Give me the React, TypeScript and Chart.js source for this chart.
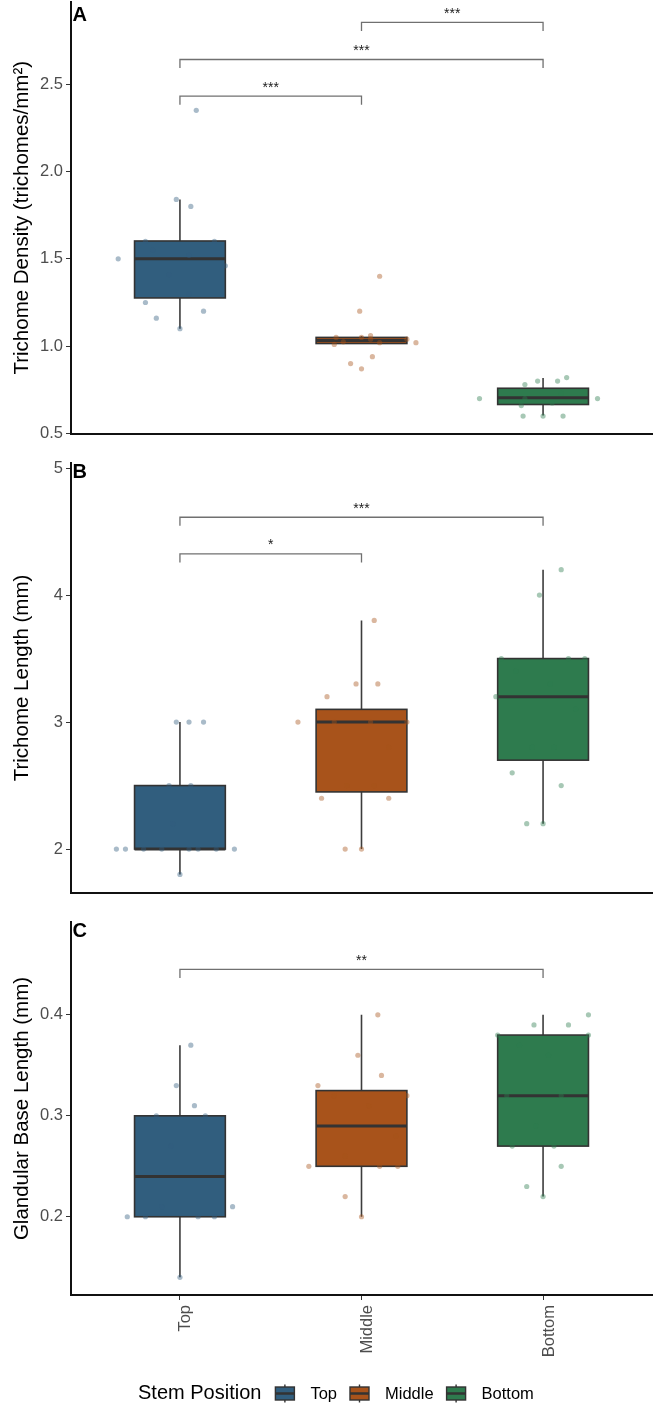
import { useEffect, useRef } from "react";
import { Chart, registerables } from "chart.js";

Chart.register(...registerables);

const FONT = "'Liberation Sans', Arial, Helvetica, sans-serif";
Chart.defaults.font.family = FONT;

// Stem positions and their fills
const groups = ["Top", "Middle", "Bottom"];
const groupFill = ["#315E7E", "#A8531B", "#2E7B4E"];
const groupPoint = ["rgba(49,94,126,0.42)", "rgba(168,83,27,0.42)", "rgba(46,123,78,0.42)"];

// ---- A: trichome density (trichomes/mm²) ----
const densityTop = [2.35, 1.84, 1.8, 1.6, 1.6, 1.55, 1.52, 1.5, 1.46, 1.41, 1.3, 1.25, 1.2, 1.16, 1.1];
const densityTopJitter = [0.09, -0.02, 0.06, -0.19, 0.19, -0.15, 0.05, -0.34, 0.25, -0.06, 0.05, -0.19, 0.13, -0.13, 0.0];
const densityMiddle = [1.4, 1.2, 1.06, 1.05, 1.05, 1.04, 1.04, 1.025, 1.02, 1.02, 1.01, 0.94, 0.9, 0.87];
const densityMiddleJitter = [0.1, -0.01, 0.05, -0.14, 0.0, 0.05, 0.25, -0.1, 0.1, 0.3, -0.15, 0.06, -0.06, 0.0];
const densityBottom = [0.82, 0.8, 0.8, 0.78, 0.73, 0.7, 0.7, 0.7, 0.675, 0.66, 0.6, 0.6, 0.6];
const densityBottomJitter = [0.13, -0.03, 0.08, -0.1, 0.1, -0.35, 0.3, -0.1, 0.05, -0.12, -0.11, 0.0, 0.11];
// [lower whisker, Q1, median, Q3, upper whisker]
const densityBoxes = [
  [1.1, 1.276, 1.5, 1.602, 1.839],
  [1.015, 1.015, 1.032, 1.05, 1.057],
  [0.603, 0.666, 0.704, 0.759, 0.818],
];
const densityTicks = [0.5, 1.0, 1.5, 2.0, 2.5];
const densityBrackets = [
  { from: 1, to: 2, y: 2.431, label: "***" },
  { from: 1, to: 3, y: 2.641, label: "***" },
  { from: 2, to: 3, y: 2.853, label: "***" },
];

// ---- B: trichome length (mm) ----
const lengthTop = [3.0, 3.0, 3.0, 2.5, 2.5, 2.2, 2.0, 2.0, 2.0, 2.0, 2.0, 2.0, 2.0, 2.0, 1.8];
const lengthTopJitter = [-0.02, 0.05, 0.13, -0.06, 0.06, -0.04, -0.35, -0.3, -0.2, -0.1, 0.05, 0.1, 0.2, 0.3, 0.0];
const lengthMiddle = [3.8, 3.3, 3.3, 3.2, 3.0, 3.0, 3.0, 3.0, 2.8, 2.5, 2.5, 2.4, 2.4, 2.0, 2.0];
const lengthMiddleJitter = [0.07, -0.03, 0.09, -0.19, -0.35, -0.15, 0.05, 0.25, 0.15, -0.08, 0.07, -0.22, 0.15, -0.09, 0.0];
const lengthBottom = [4.2, 4.0, 3.5, 3.5, 3.5, 3.4, 3.3, 3.2, 3.1, 2.8, 2.8, 2.6, 2.5, 2.2, 2.2];
const lengthBottomJitter = [0.1, -0.02, -0.23, 0.14, 0.23, -0.15, 0.04, -0.26, 0.18, -0.06, 0.06, -0.17, 0.1, -0.09, 0.0];
const lengthBoxes = [
  [1.8, 2.0, 2.0, 2.5, 3.0],
  [2.0, 2.45, 3.0, 3.1, 3.8],
  [2.2, 2.7, 3.2, 3.5, 4.2],
];
const lengthTicks = [2, 3, 4, 5];
const lengthBrackets = [
  { from: 1, to: 2, y: 4.324, label: "*" },
  { from: 1, to: 3, y: 4.613, label: "***" },
];

// ---- C: glandular base length (mm) ----
const baseTop = [0.37, 0.33, 0.31, 0.3, 0.3, 0.27, 0.21, 0.21, 0.2, 0.2, 0.2, 0.2, 0.14];
const baseTopJitter = [0.06, -0.02, 0.08, -0.13, 0.14, -0.05, -0.1, 0.29, -0.29, -0.19, 0.1, 0.19, 0.0];
const baseMiddle = [0.4, 0.36, 0.34, 0.33, 0.32, 0.32, 0.31, 0.28, 0.26, 0.25, 0.25, 0.25, 0.22, 0.2];
const baseMiddleJitter = [0.09, -0.02, 0.11, -0.24, -0.15, 0.25, 0.04, 0.19, -0.09, -0.29, 0.1, 0.2, -0.09, 0.0];
const baseBottom = [0.4, 0.39, 0.39, 0.38, 0.38, 0.37, 0.36, 0.32, 0.32, 0.29, 0.27, 0.27, 0.25, 0.23, 0.22];
const baseBottomJitter = [0.25, -0.05, 0.14, -0.25, 0.25, -0.13, 0.03, -0.2, 0.1, -0.04, -0.17, 0.06, 0.1, -0.09, 0.0];
const baseBoxes = [
  [0.14, 0.2, 0.24, 0.3, 0.37],
  [0.2, 0.25, 0.29, 0.325, 0.4],
  [0.22, 0.27, 0.32, 0.38, 0.4],
];
const baseTicks = [0.2, 0.3, 0.4];
const baseBrackets = [{ from: 1, to: 3, y: 0.445, label: "**" }];

type Bracket = { from: number; to: number; y: number; label: string };

interface PanelSpec {
  letter: string;
  title: string;
  yMin: number;
  yMax: number;
  yTicks: number[];
  decimals: number;
  values: number[][];
  jitter: number[][];
  boxes: number[][];
  brackets: Bracket[];
  top: number;
  height: number;
  padTop: number;
  xAxisHeight: number;
  letterBaseline: number;
  showXLabels: boolean;
  legend: boolean;
}

const BOX_HALF = 0.25;

const panels: PanelSpec[] = [
  {
    letter: "A",
    title: "Trichome Density (trichomes/mm²)",
    yMin: 0.5,
    yMax: 2.97,
    yTicks: densityTicks,
    decimals: 1,
    values: [densityTop, densityMiddle, densityBottom],
    jitter: [densityTopJitter, densityMiddleJitter, densityBottomJitter],
    boxes: densityBoxes,
    brackets: densityBrackets,
    top: 0,
    height: 446,
    padTop: 2,
    xAxisHeight: 12.5,
    letterBaseline: 20.7,
    showXLabels: false,
    legend: false,
  },
  {
    letter: "B",
    title: "Trichome Length (mm)",
    yMin: 1.654,
    yMax: 5.04,
    yTicks: lengthTicks,
    decimals: 0,
    values: [lengthTop, lengthMiddle, lengthBottom],
    jitter: [lengthTopJitter, lengthMiddleJitter, lengthBottomJitter],
    boxes: lengthBoxes,
    brackets: lengthBrackets,
    top: 446,
    height: 459,
    padTop: 17,
    xAxisHeight: 12,
    letterBaseline: 32,
    showXLabels: false,
    legend: false,
  },
  {
    letter: "C",
    title: "Glandular Base Length (mm)",
    yMin: 0.1225,
    yMax: 0.492,
    yTicks: baseTicks,
    decimals: 1,
    values: [baseTop, baseMiddle, baseBottom],
    jitter: [baseTopJitter, baseMiddleJitter, baseBottomJitter],
    boxes: baseBoxes,
    brackets: baseBrackets,
    top: 905,
    height: 499,
    padTop: 17,
    xAxisHeight: 109,
    letterBaseline: 31.5,
    showXLabels: true,
    legend: true,
  },
];

function drawKey(ctx: CanvasRenderingContext2D, x: number, cy: number, fill: string) {
  const w = 19;
  const cx = x + w / 2;
  ctx.strokeStyle = "#333";
  ctx.lineWidth = 1.4;
  ctx.beginPath();
  ctx.moveTo(cx, cy - 9);
  ctx.lineTo(cx, cy + 9);
  ctx.stroke();
  ctx.fillStyle = fill;
  ctx.fillRect(x, cy - 6.5, w, 13);
  ctx.strokeRect(x, cy - 6.5, w, 13);
  ctx.lineWidth = 2.5;
  ctx.beginPath();
  ctx.moveTo(x, cy);
  ctx.lineTo(x + w, cy);
  ctx.stroke();
}

function panelPlugin(spec: PanelSpec) {
  return {
    id: "boxes" + spec.letter,
    beforeDatasetsDraw(chart: any) {
      const { ctx, scales } = chart;
      const x = scales.x;
      const y = scales.y;
      ctx.save();
      spec.boxes.forEach((b, i) => {
        const [lo, q1, med, q3, hi] = b;
        const cx = x.getPixelForValue(i + 1);
        const x0 = x.getPixelForValue(i + 1 - BOX_HALF);
        const x1 = x.getPixelForValue(i + 1 + BOX_HALF);
        const yTop = y.getPixelForValue(q3);
        const yBot = y.getPixelForValue(q1);
        const yMed = y.getPixelForValue(med);
        // whiskers
        ctx.strokeStyle = "#3d3d3d";
        ctx.lineWidth = 1.6;
        ctx.beginPath();
        ctx.moveTo(cx, yTop);
        ctx.lineTo(cx, y.getPixelForValue(hi));
        ctx.moveTo(cx, yBot);
        ctx.lineTo(cx, y.getPixelForValue(lo));
        ctx.stroke();
        // box body
        ctx.fillStyle = groupFill[i];
        ctx.fillRect(x0, yTop, x1 - x0, yBot - yTop);
        ctx.strokeStyle = "#333";
        ctx.lineWidth = 1.6;
        ctx.strokeRect(x0, yTop, x1 - x0, yBot - yTop);
        // median
        ctx.lineWidth = 3;
        ctx.strokeStyle = "#333";
        ctx.beginPath();
        ctx.moveTo(x0, yMed);
        ctx.lineTo(x1, yMed);
        ctx.stroke();
      });
      ctx.restore();
    },
    afterDatasetsDraw(chart: any) {
      const { ctx, scales } = chart;
      const x = scales.x;
      const y = scales.y;
      ctx.save();
      spec.brackets.forEach((br) => {
        const xa = x.getPixelForValue(br.from);
        const xb = x.getPixelForValue(br.to);
        const yy = y.getPixelForValue(br.y);
        ctx.strokeStyle = "#707070";
        ctx.lineWidth = 1.3;
        ctx.beginPath();
        ctx.moveTo(xa, yy + 8.5);
        ctx.lineTo(xa, yy);
        ctx.lineTo(xb, yy);
        ctx.lineTo(xb, yy + 8.5);
        ctx.stroke();
        ctx.fillStyle = "#1a1a1a";
        ctx.font = `14px ${FONT}`;
        ctx.textAlign = "center";
        ctx.textBaseline = "alphabetic";
        ctx.fillText(br.label, (xa + xb) / 2, yy - 4.5);
      });
      ctx.restore();
    },
    afterDraw(chart: any) {
      const { ctx } = chart;
      ctx.save();
      ctx.fillStyle = "#000";
      ctx.font = `bold 20px ${FONT}`;
      ctx.textAlign = "left";
      ctx.textBaseline = "alphabetic";
      ctx.fillText(spec.letter, 72.5, spec.letterBaseline);
      if (spec.legend) {
        const keyCy = 488.5;
        let cx = 138;
        ctx.font = `20px ${FONT}`;
        ctx.fillStyle = "#000";
        ctx.fillText("Stem Position", cx, 494);
        cx += ctx.measureText("Stem Position").width + 14;
        groups.forEach((g, i) => {
          drawKey(ctx, cx, keyCy, groupFill[i]);
          cx += 19 + 16;
          ctx.font = `16.5px ${FONT}`;
          ctx.fillStyle = "#000";
          ctx.fillText(g, cx, 493.5);
          cx += ctx.measureText(g).width + 13;
        });
      }
      ctx.restore();
    },
  };
}

// drop the automatic label padding so the plot area is exactly where the layout puts it
function clearScalePadding(s: any) {
  s.paddingTop = 0;
  s.paddingBottom = 0;
  s.paddingLeft = 0;
  s.paddingRight = 0;
}

function makeConfig(spec: PanelSpec): any {
  return {
    type: "scatter",
    data: {
      datasets: groups.map((g, i) => ({
        label: g,
        data: spec.values[i].map((v, j) => ({ x: i + 1 + spec.jitter[i][j], y: v })),
        backgroundColor: groupPoint[i],
        borderWidth: 0,
        pointRadius: 2.6,
        pointHoverRadius: 2.6,
      })),
    },
    options: {
      responsive: false,
      animation: false,
      devicePixelRatio: 1,
      events: [],
      layout: { autoPadding: false, padding: { top: spec.padTop, right: 13, left: 0, bottom: 0 } },
      plugins: { legend: { display: false }, tooltip: { enabled: false } },
      scales: {
        x: {
          type: "linear",
          min: 0.4,
          max: 3.6,
          bounds: "data",
          afterBuildTicks: (s: any) => {
            s.ticks = [1, 2, 3].map((v) => ({ value: v }));
          },
          afterFit: (s: any) => {
            s.height = spec.xAxisHeight;
            clearScalePadding(s);
          },
          grid: {
            display: spec.showXLabels,
            drawOnChartArea: false,
            drawTicks: true,
            tickLength: 5,
            color: "#333",
            lineWidth: 1,
          },
          border: { display: true, color: "#111", width: 2 },
          ticks: {
            display: spec.showXLabels,
            autoSkip: false,
            minRotation: 90,
            maxRotation: 90,
            padding: 5,
            labelOffset: 6,
            color: "#4D4D4D",
            font: { size: 16.5, family: FONT },
            callback: (v: any) => groups[Math.round(Number(v)) - 1] ?? "",
          },
        },
        y: {
          min: spec.yMin,
          max: spec.yMax,
          bounds: "data",
          afterBuildTicks: (s: any) => {
            s.ticks = spec.yTicks.map((v) => ({ value: v }));
          },
          afterFit: (s: any) => {
            s.width = 71;
            clearScalePadding(s);
          },
          grid: {
            drawOnChartArea: false,
            drawTicks: true,
            tickLength: 5,
            color: "#333",
            lineWidth: 1,
          },
          border: { display: true, color: "#111", width: 2 },
          ticks: {
            padding: 3,
            color: "#4D4D4D",
            font: { size: 16.5, family: FONT },
            callback: (v: any) => Number(v).toFixed(spec.decimals),
          },
          title: {
            display: true,
            text: spec.title,
            color: "#000",
            font: { size: 20.5, family: FONT },
            padding: { top: 10, bottom: 0 },
          },
        },
      },
    },
    plugins: [panelPlugin(spec)],
  };
}

function Panel({ spec }: { spec: PanelSpec }) {
  const ref = useRef<HTMLCanvasElement | null>(null);
  useEffect(() => {
    if (!ref.current) return;
    const chart = new Chart(ref.current, makeConfig(spec));
    return () => chart.destroy();
  }, [spec]);
  return (
    <canvas
      ref={ref}
      width={665}
      height={spec.height}
      style={{ position: "absolute", left: 0, top: spec.top, width: 665, height: spec.height, display: "block" }}
    />
  );
}

export default function App() {
  return (
    <div style={{ position: "absolute", left: 0, top: 0, width: 665, height: 1404, background: "#fff", overflow: "hidden" }}>
      {panels.map((p) => (
        <Panel key={p.letter} spec={p} />
      ))}
    </div>
  );
}
